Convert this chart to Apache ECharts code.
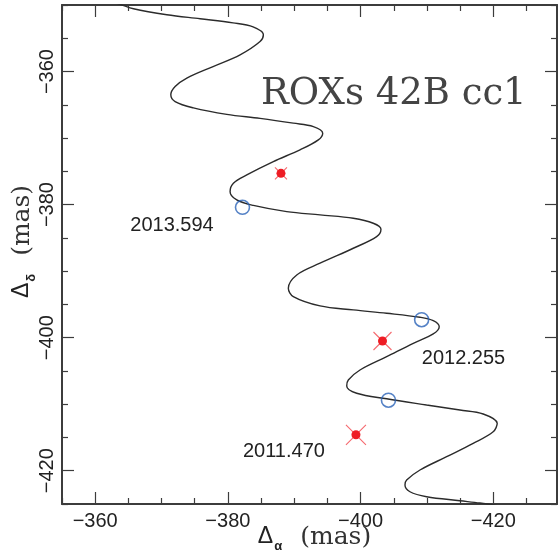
<!DOCTYPE html>
<html>
<head>
<meta charset="utf-8">
<title>ROXs 42B cc1</title>
<script src="https://cdn.jsdelivr.net/npm/echarts@6/dist/echarts.min.js"></script>
<style>
  html, body { margin: 0; padding: 0; background: #fff; }
  #chart { width: 560px; height: 558px; }
</style>
</head>
<body>
<div id="chart"></div>
<script>
// Background-star track (relative offsets, mas), traced from top to bottom
const trackX = [
  -360.75, -363.51, -365.77, -370.80, -375.81, -380.78, -383.80, -385.35, -384.85,
  -381.84, -377.77, -373.81, -372.05, -371.40, -372.05, -374.80, -379.83, -384.85,
  -389.86, -392.88, -394.29, -393.63, -390.87, -386.85, -382.85, -380.83, -380.33,
  -381.34, -383.84, -388.87, -393.89, -398.90, -401.91, -403.07, -402.42, -398.90,
  -393.89, -390.38, -389.11, -389.86, -393.89, -398.90, -403.93, -408.95, -410.95,
  -411.85, -410.95, -407.94, -403.93, -399.91, -398.15, -397.91, -399.41, -403.93,
  -409.95, -414.97, -418.48, -420.59, -419.98, -416.97, -412.97, -408.95, -406.94,
  -406.69, -407.44, -409.95, -414.97, -417.98, -420.99
];
const trackY = [
  -349.22, -349.82, -350.57, -351.47, -352.07, -352.68, -353.28, -354.47, -355.49,
  -357.49, -359.25, -360.99, -362.26, -363.50, -364.51, -365.46, -366.44, -367.04,
  -367.76, -368.27, -369.26, -370.27, -371.77, -373.53, -375.53, -376.78, -378.05,
  -379.29, -380.12, -381.05, -381.55, -382.05, -382.80, -383.70, -384.81, -386.56,
  -388.81, -390.57, -392.57, -393.83, -395.23, -395.83, -396.33, -396.93, -397.44,
  -398.35, -399.44, -400.84, -402.86, -404.86, -406.36, -407.26, -408.36, -409.19,
  -410.12, -410.87, -411.47, -412.87, -414.14, -415.88, -417.89, -419.89, -421.40,
  -422.15, -423.16, -423.91, -424.51, -424.86, -425.31
];

// Epochs of observation
const epochs = ['2011.470', '2012.255', '2013.594'];
// Measured companion-candidate offsets (mas)
const measuredX = [-399.3, -403.3, -388.0];
const measuredY = [-414.6, -400.5, -375.3];
// Expected offsets of a stationary background object at each epoch (mas)
const predictedX = [-404.2, -409.2, -382.2];
const predictedY = [-409.4, -397.3, -380.4];

// Tick values
const xMajorTicks = [-420, -400, -380, -360];
const xMinorTicks = [-425, -415, -410, -405, -395, -390, -385, -375, -370, -365, -355];
const yMajorTicks = [-420, -400, -380, -360];
const yMinorTicks = [-425, -415, -410, -405, -395, -390, -385, -375, -370, -365, -355, -350];

// Styling
const INK = '#222';
const FRAME = '#3c3c3c';
const RED = '#ee1c24';
const BLUE = '#2a63b8';
const crossSizes = [20, 18, 12];
const labelOffsets = [[-72, 17], [81, 17], [-109, 52]];

const X_RANGE = { min: -429.6, max: -355 };
const Y_RANGE = { min: -425, max: -350 };

const minus = v => String(v).replace('-', '\u2212');

// Axis title: "Δ" with a dropped subscript, then "(mas)"
const nameRich = () => ({
  d: { fontFamily: 'Liberation Sans', fontSize: 23, color: INK, lineHeight: 28, verticalAlign: 'top' },
  s: { fontFamily: 'Liberation Sans', fontSize: 13, fontWeight: 'bold', color: INK, lineHeight: 12, verticalAlign: 'bottom', padding: [22, 18, 0, 1] },
  m: { fontFamily: 'DejaVu Serif', fontSize: 25, color: '#333', lineHeight: 28, verticalAlign: 'top' }
});

function frameAxis(kind, position, ticks, len, extra) {
  const range = kind === 'x' ? X_RANGE : Y_RANGE;
  return Object.assign({
    type: 'value',
    position: position,
    min: range.min,
    max: range.max,
    inverse: kind === 'x',
    splitLine: { show: false },
    axisLine: { show: true, onZero: false, lineStyle: { color: FRAME, width: 2 } },
    axisTick: { show: true, inside: true, length: len, customValues: ticks, lineStyle: { color: FRAME, width: 1.2 } },
    axisLabel: { show: false },
    axisPointer: { show: false }
  }, extra || {});
}

const chart = echarts.init(document.getElementById('chart'), null, { renderer: 'canvas' });

const trackData = trackX.map((x, i) => [x, trackY[i]]);

chart.setOption({
  animation: false,
  backgroundColor: '#fff',
  grid: { left: 62, right: 3, top: 5, bottom: 54, containLabel: false, outerBoundsMode: 'none' },
  xAxis: [
    frameAxis('x', 'bottom', xMajorTicks, 12, {
      axisLabel: {
        show: true, customValues: xMajorTicks, formatter: minus, margin: 7,
        fontFamily: 'Liberation Sans', fontSize: 20, color: INK
      },
      name: '{d|\u0394}{s|\u03b1}{m|(mas)}',
      nameLocation: 'middle',
      nameGap: 21,
      nameMoveOverlap: false,
      nameTextStyle: { padding: [0, 0, 0, 10], rich: nameRich() }
    }),
    frameAxis('x', 'bottom', xMinorTicks, 6, { axisLine: { show: false, onZero: false } }),
    frameAxis('x', 'top', xMajorTicks, 12),
    frameAxis('x', 'top', xMinorTicks, 6, { axisLine: { show: false, onZero: false } })
  ],
  yAxis: [
    frameAxis('y', 'left', yMajorTicks, 12, {
      axisLabel: {
        show: true, customValues: yMajorTicks, formatter: minus, margin: 5, rotate: 90,
        fontFamily: 'Liberation Sans', fontSize: 20, color: INK
      },
      name: '{d|\u0394}{s|\u03b4}{m|(mas)}',
      nameLocation: 'middle',
      nameGap: 24,
      nameMoveOverlap: false,
      nameTextStyle: { padding: [0, 0, 0, 26], rich: nameRich() }
    }),
    frameAxis('y', 'left', yMinorTicks, 6, { axisLine: { show: false, onZero: false } }),
    frameAxis('y', 'right', yMajorTicks, 12),
    frameAxis('y', 'right', yMinorTicks, 6, { axisLine: { show: false, onZero: false } })
  ],
  graphic: [{
    type: 'text',
    x: 261,
    y: 94,
    style: {
      text: 'ROXs 42B cc1',
      fontFamily: 'DejaVu Serif',
      fontSize: 37,
      fill: '#444',
      align: 'left',
      verticalAlign: 'middle'
    },
    z: 10
  }],
  series: [
    {
      name: 'track',
      type: 'line',
      data: trackData,
      smooth: 0.35,
      showSymbol: false,
      symbol: 'none',
      clip: true,
      lineStyle: { color: '#2b2b2b', width: 1.4 },
      z: 2
    },
    {
      name: 'predicted',
      type: 'scatter',
      data: predictedX.map((x, i) => [x, predictedY[i]]),
      symbol: 'circle',
      symbolSize: 14,
      itemStyle: { color: 'rgba(0,0,0,0)', borderColor: BLUE, borderWidth: 1.6 },
      z: 4
    },
    {
      name: 'error',
      type: 'scatter',
      data: measuredX.map((x, i) => ({ value: [x, measuredY[i]], symbolSize: crossSizes[i] })),
      symbol: 'path://M0,0L10,10M10,0L0,10',
      itemStyle: { color: 'rgba(0,0,0,0)', borderColor: '#f2444a', borderWidth: 1.1 },
      z: 5
    },
    {
      name: 'measured',
      type: 'scatter',
      data: measuredX.map((x, i) => ({
        value: [x, measuredY[i]],
        label: { offset: labelOffsets[i] }
      })),
      symbol: 'circle',
      symbolSize: 9,
      itemStyle: { color: RED, opacity: 1 },
      label: {
        show: true,
        position: 'inside',
        formatter: p => epochs[p.dataIndex],
        fontFamily: 'Liberation Sans',
        fontSize: 20,
        color: INK
      },
      z: 6
    }
  ]
});
</script>
</body>
</html>
